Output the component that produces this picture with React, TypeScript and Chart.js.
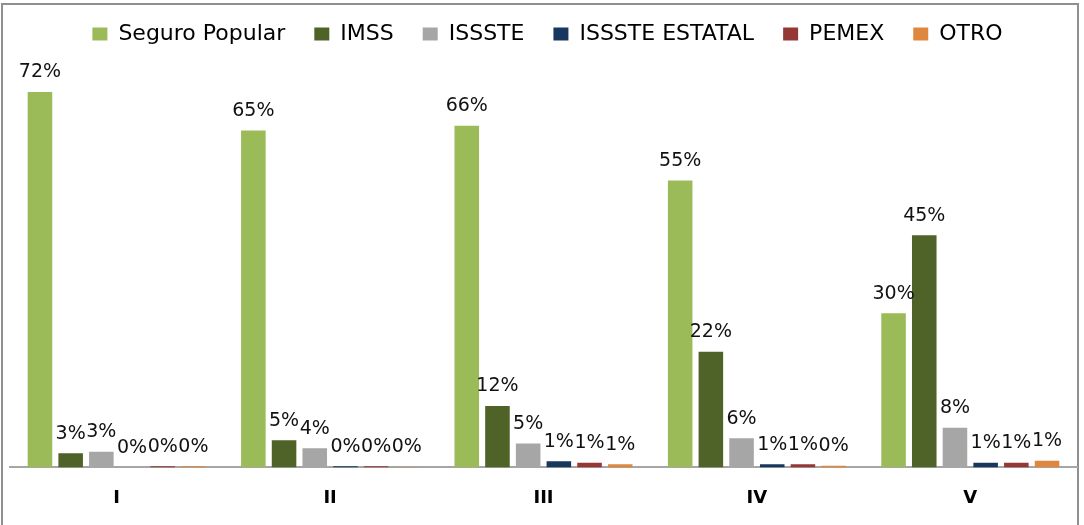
import React, { useEffect, useRef } from "react";
import { Chart, registerables } from "chart.js";

Chart.register(...registerables);

const categories = ["I", "II", "III", "IV", "V"];
const seguroPopular = [72.1, 64.7, 65.6, 55.1, 29.6];
const imss = [2.7, 5.2, 11.8, 22.2, 44.6];
const issste = [3.0, 3.7, 4.6, 5.6, 7.6];
const issteEstatal = [0, 0.2, 1.2, 0.6, 0.9];
const pemex = [0.2, 0.2, 0.9, 0.6, 0.9];
const otro = [0.2, 0.1, 0.6, 0.3, 1.3];

const seriesNames = ["Seguro Popular", "IMSS", "ISSSTE", "ISSSTE ESTATAL", "PEMEX", "OTRO"];
const seriesColors = ["#9BBB59", "#4F6228", "#A6A6A6", "#17375E", "#953735", "#E0873F"];

const FONT = "'DejaVu Sans', sans-serif";

const labelPlugin = {
  id: "valueLabels",
  afterLayout(chart: any) {
    if (chart.legend) {
      chart.legend.left += 4;
      chart.legend.right += 4;
    }
  },
  afterDatasetsDraw(chart: any) {
    const ctx = chart.ctx;
    ctx.save();
    ctx.font = `19px ${FONT}`;
    ctx.fillStyle = "#111";
    ctx.textAlign = "center";
    ctx.textBaseline = "alphabetic";
    chart.data.datasets.forEach((ds: any, i: number) => {
      const meta = chart.getDatasetMeta(i);
      meta.data.forEach((el: any, j: number) => {
        const v = ds.data[j];
        ctx.fillText(Math.round(v) + "%", el.x, el.y - 14.5);
      });
    });
    ctx.restore();
  },
};

export default function App() {
  const ref = useRef<HTMLCanvasElement>(null);
  useEffect(() => {
    const values = [seguroPopular, imss, issste, issteEstatal, pemex, otro];
    const chart = new Chart(ref.current!, {
      type: "bar",
      data: {
        labels: categories,
        datasets: values.map((d, i) => ({
          label: seriesNames[i],
          data: d,
          backgroundColor: seriesColors[i],
          borderWidth: 0,
          categoryPercentage: 0.863,
          barPercentage: 0.8,
        })),
      },
      options: {
        animation: false,
        responsive: false,
        maintainAspectRatio: false,
        layout: { padding: { left: 10, right: 7, top: 0, bottom: 0 } },
        plugins: {
          legend: {
            position: "top",
            labels: {
              font: { family: FONT, size: 22 },
              color: "#000",
              boxWidth: 15,
              boxHeight: 13,
              padding: 29,
            },
          },
          tooltip: { enabled: false },
        },
        scales: {
          x: {
            grid: { display: false, drawTicks: false },
            border: { display: true, color: "#A6A6A6", width: 2 },
            ticks: {
              font: { family: FONT, size: 18, weight: "bold" },
              color: "#000",
              padding: 20,
            },
          },
          y: {
            display: false,
            min: 0,
            max: 79.2,
          },
        },
      },
      plugins: [labelPlugin],
    });
    return () => chart.destroy();
  }, []);
  return (
    <div style={{ position: "fixed", left: 0, top: 0, width: 1084, height: 525, overflow: "hidden", background: "#fff" }}>
      <div
        style={{
          position: "absolute",
          left: 1,
          top: 3,
          width: 1078,
          height: 600,
          border: "2px solid #8f8f8f",
          boxSizing: "border-box",
        }}
      />
      <canvas
        ref={ref}
        width={1084}
        height={535}
        style={{ position: "absolute", left: 0, top: -6, width: 1084, height: 535 }}
      />
    </div>
  );
}
